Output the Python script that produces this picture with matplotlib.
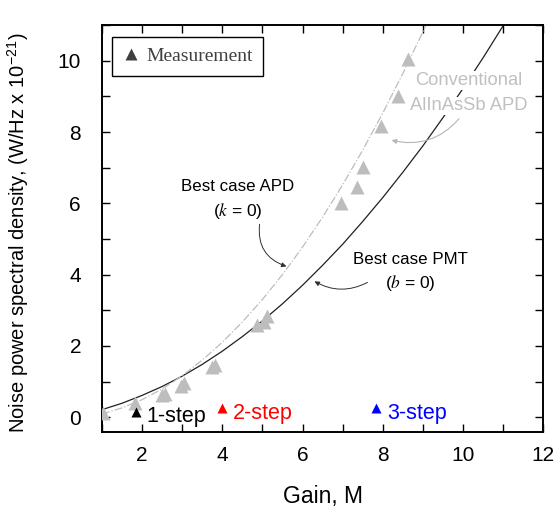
import numpy as np
import matplotlib
matplotlib.use("Agg")
import matplotlib.pyplot as plt
from matplotlib.lines import Line2D
from matplotlib.ticker import MultipleLocator

plt.rcParams['font.family'] = ['Liberation Sans', 'DejaVu Sans']
plt.rcParams['mathtext.fontset'] = 'stix'

# best case PMT (b = 0)
pmt_gain = [1, 1.5, 2, 2.5, 3, 3.5, 4, 4.5, 5, 5.5, 6, 6.5, 7, 7.5, 8, 8.5, 9, 9.5, 10, 10.5, 11, 11.2]
pmt_psd = [0.21, 0.39, 0.61, 0.86, 1.15, 1.48, 1.85, 2.26, 2.70, 3.18, 3.70, 4.26, 4.85, 5.49, 6.16,
           6.87, 7.61, 8.40, 9.22, 10.08, 10.98, 11.35]

# best case APD (k = 0), dash-dot curve
apd_gain = [1, 1.5, 2, 2.5, 3, 3.5, 4, 4.5, 5, 5.5, 6, 6.5, 7, 7.5, 8, 8.5, 9, 9.2]
apd_psd = [0.09, 0.26, 0.49, 0.79, 1.16, 1.60, 2.10, 2.67, 3.30, 4.00, 4.77, 5.61, 6.52, 7.49, 8.53,
           9.64, 10.81, 11.3]

# measured conventional AlInAsSb APD
meas_gain = [1.03, 1.83, 2.49, 2.58, 2.97, 3.05, 3.74, 3.83, 4.87, 5.03, 5.12, 6.95, 7.35, 7.52, 7.95, 8.38, 8.62]
meas_psd = [0.12, 0.40, 0.62, 0.66, 0.88, 0.95, 1.40, 1.46, 2.59, 2.68, 2.85, 6.02, 6.46, 7.02, 8.16, 9.0, 10.06]

# staircase points
step_labels = ['1-step', '2-step', '3-step']
step_gain = [1.84, 3.99, 7.84]
step_psd = [0.15, 0.25, 0.25]
step_colors = ['black', 'red', 'blue']

fig = plt.figure(figsize=(5.6, 5.12), dpi=100)
ax = fig.add_axes([0.182, 0.156, 0.788, 0.795])

ax.plot(pmt_gain, pmt_psd, color='#202020', lw=0.9, zorder=2)
ax.plot(apd_gain, apd_psd, color='#bdbdbd', lw=0.9, ls='-.', zorder=2)
ax.plot(meas_gain, meas_psd, ls='none', marker='^', ms=10, color='#bdbdbd', mec='none', zorder=3)

for lab, g, p, c in zip(step_labels, step_gain, step_psd, step_colors):
    ax.plot(g, p, marker='^', ms=7, color=c, mec='none', ls='none', zorder=4)
    ax.text(g + 0.28, p - 0.14, lab, color=c, fontsize=15.5, va='center', ha='left', zorder=4)

ax.text(4.38, 6.48, 'Best case APD', fontsize=12.2, ha='center', va='center')
ax.text(4.38, 5.77, '($k$ = 0)', fontsize=12.5, ha='center', va='center')
ax.annotate('', xy=(5.6, 4.23), xytext=(4.93, 5.41),
            arrowprops=dict(arrowstyle='-|>', color='#303030', lw=0.7, mutation_scale=7,
                            connectionstyle='arc3,rad=0.4', shrinkA=0, shrinkB=0))

ax.text(8.7, 4.42, 'Best case PMT', fontsize=12.2, ha='center', va='center')
ax.text(8.7, 3.75, '($b$ = 0)', fontsize=12.5, ha='center', va='center')
ax.annotate('', xy=(6.3, 3.81), xytext=(7.62, 3.78),
            arrowprops=dict(arrowstyle='-|>', color='#303030', lw=0.7, mutation_scale=7,
                            connectionstyle='arc3,rad=-0.27', shrinkA=0, shrinkB=0))

ax.text(10.15, 9.44, 'Conventional', fontsize=13.2, color='#c0c0c0', ha='center', va='center',
        bbox=dict(fc='white', ec='none', pad=0.5), zorder=5)
ax.text(10.15, 8.73, 'AlInAsSb APD', fontsize=13.2, color='#c0c0c0', ha='center', va='center',
        bbox=dict(fc='white', ec='none', pad=0.5), zorder=5)
ax.annotate('', xy=(8.22, 7.77), xytext=(9.9, 8.37),
            arrowprops=dict(arrowstyle='-|>', color='#b5b5b5', lw=0.8, mutation_scale=7,
                            connectionstyle='arc3,rad=-0.3', shrinkA=0, shrinkB=0), zorder=6)

ax.set_xlim(1, 12)
ax.set_ylim(-0.42, 11)
ax.xaxis.set_major_locator(MultipleLocator(2))
ax.xaxis.set_minor_locator(MultipleLocator(1))
ax.yaxis.set_major_locator(MultipleLocator(2))
ax.yaxis.set_minor_locator(MultipleLocator(1))
ax.tick_params(which='both', direction='in', top=True, right=True, labelsize=15, width=1)
ax.tick_params(which='major', length=6)
ax.tick_params(which='minor', length=6)
ax.tick_params(axis='y', pad=15)
ax.tick_params(axis='x', pad=10)
for s in ax.spines.values():
    s.set_linewidth(1.4)

ax.set_xlabel('Gain, M', fontsize=16.5)
ax.set_ylabel('Noise power spectral density, (W/Hz x 10$^{\\mathregular{-21}}$)', fontsize=14.5)
ax.xaxis.set_label_coords(0.5, -0.13)
ax.yaxis.set_label_coords(-0.16, 0.49)

h = Line2D([], [], marker='^', ls='none', color='#404040', ms=9, mec='none')
leg = ax.legend([h], ['Measurement'], loc='upper left', bbox_to_anchor=(0.023, 0.971),
                borderaxespad=0, fancybox=False, edgecolor='black', framealpha=1,
                handlelength=0.8, handletextpad=0.4, borderpad=0.55,
                prop={'family': ['Liberation Serif'], 'size': 14})
leg.get_frame().set_linewidth(1)
for t in leg.get_texts():
    t.set_color('#404040')

fig.savefig('out.png', dpi=100)
